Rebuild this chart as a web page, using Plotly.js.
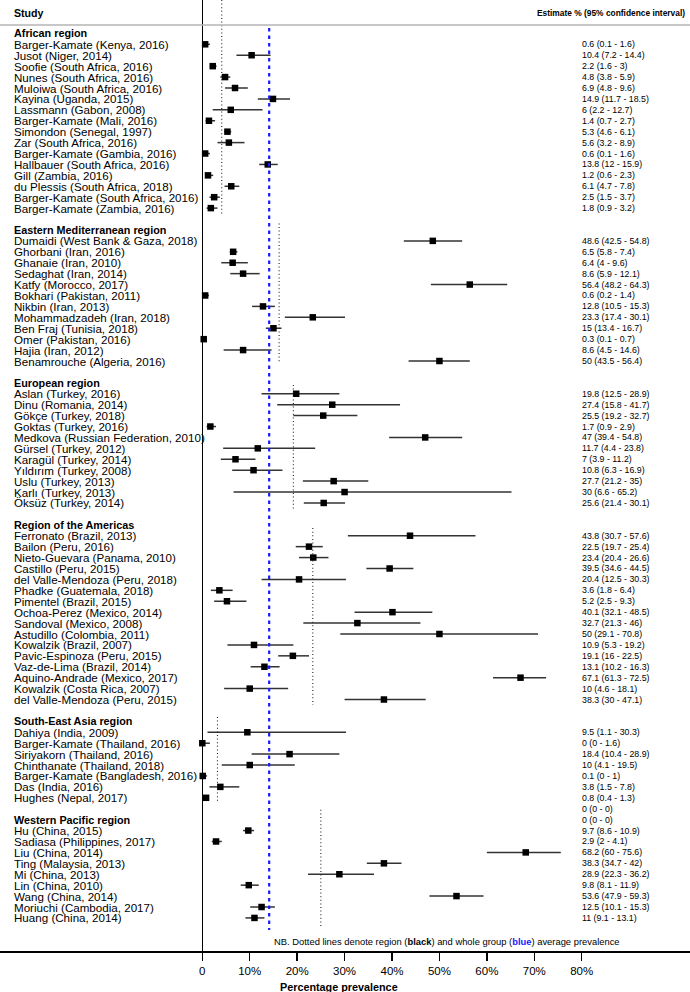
<!DOCTYPE html>
<html><head><meta charset="utf-8">
<script src="https://cdn.plot.ly/plotly-3.0.1.min.js"></script>
<style>html,body{margin:0;padding:0;background:#fff}</style>
</head><body><div id="chart" style="width:690px;height:992px"></div>
<script>
// ---------------- DATA ----------------
const regionNames = ["African region","Eastern Mediterranean region","European region","Region of the Americas","South-East Asia region","Western Pacific region"];
const regionAvg = [4.1, 16.2, 19.2, 23.3, 3.2, 25.0];
const overallAvg = 14.1;

const africanStudies = ["Barger-Kamate (Kenya, 2016)","Jusot (Niger, 2014)","Soofie (South Africa, 2016)","Nunes (South Africa, 2016)","Muloiwa (South Africa, 2016)","Kayina (Uganda, 2015)","Lassmann (Gabon, 2008)","Barger-Kamate (Mali, 2016)","Simondon (Senegal, 1997)","Zar (South Africa, 2016)","Barger-Kamate (Gambia, 2016)","Hallbauer (South Africa, 2016)","Gill (Zambia, 2016)","du Plessis (South Africa, 2018)","Barger-Kamate (South Africa, 2016)","Barger-Kamate (Zambia, 2016)"];
const africanEst = [0.6,10.4,2.2,4.8,6.9,14.9,6,1.4,5.3,5.6,0.6,13.8,1.2,6.1,2.5,1.8];
const africanLo  = [0.1,7.2,1.6,3.8,4.8,11.7,2.2,0.7,4.6,3.2,0.1,12,0.6,4.7,1.5,0.9];
const africanHi  = [1.6,14.4,3,5.9,9.6,18.5,12.7,2.7,6.1,8.9,1.6,15.9,2.3,7.8,3.7,3.2];

const emStudies = ["Dumaidi (West Bank & Gaza, 2018)","Ghorbani (Iran, 2016)","Ghanaie (Iran, 2010)","Sedaghat (Iran, 2014)","Katfy (Morocco, 2017)","Bokhari (Pakistan, 2011)","Nikbin (Iran, 2013)","Mohammadzadeh (Iran, 2018)","Ben Fraj (Tunisia, 2018)","Omer (Pakistan, 2016)","Hajia (Iran, 2012)","Benamrouche (Algeria, 2016)"];
const emEst = [48.6,6.5,6.4,8.6,56.4,0.6,12.8,23.3,15,0.3,8.6,50];
const emLo  = [42.5,5.8,4,5.9,48.2,0.2,10.5,17.4,13.4,0.1,4.5,43.5];
const emHi  = [54.8,7.4,9.6,12.1,64.3,1.4,15.3,30.1,16.7,0.7,14.6,56.4];

const euStudies = ["Aslan (Turkey, 2016)","Dinu (Romania, 2014)","Gökçe (Turkey, 2018)","Goktas (Turkey, 2016)","Medkova (Russian Federation, 2010)","Gürsel (Turkey, 2012)","Karagül (Turkey, 2014)","Yıldırım (Turkey, 2008)","Uslu (Turkey, 2013)","Karlı (Turkey, 2013)","Öksüz (Turkey, 2014)"];
const euEst = [19.8,27.4,25.5,1.7,47,11.7,7,10.8,27.7,30,25.6];
const euLo  = [12.5,15.8,19.2,0.9,39.4,4.4,3.9,6.3,21.2,6.6,21.4];
const euHi  = [28.9,41.7,32.7,2.9,54.8,23.8,11.2,16.9,35,65.2,30.1];

const amStudies = ["Ferronato (Brazil, 2013)","Bailon (Peru, 2016)","Nieto-Guevara (Panama, 2010)","Castillo (Peru, 2015)","del Valle-Mendoza (Peru, 2018)","Phadke (Guatemala, 2018)","Pimentel (Brazil, 2015)","Ochoa-Perez (Mexico, 2014)","Sandoval (Mexico, 2008)","Astudillo (Colombia, 2011)","Kowalzik (Brazil, 2007)","Pavic-Espinoza (Peru, 2015)","Vaz-de-Lima (Brazil, 2014)","Aquino-Andrade (Mexico, 2017)","Kowalzik (Costa Rica, 2007)","del Valle-Mendoza (Peru, 2015)"];
const amEst = [43.8,22.5,23.4,39.5,20.4,3.6,5.2,40.1,32.7,50,10.9,19.1,13.1,67.1,10,38.3];
const amLo  = [30.7,19.7,20.4,34.6,12.5,1.8,2.5,32.1,21.3,29.1,5.3,16,10.2,61.3,4.6,30];
const amHi  = [57.6,25.4,26.6,44.5,30.3,6.4,9.3,48.5,46,70.8,19.2,22.5,16.3,72.5,18.1,47.1];

const seaStudies = ["Dahiya (India, 2009)","Barger-Kamate (Thailand, 2016)","Siriyakorn (Thailand, 2016)","Chinthanate (Thailand, 2018)","Barger-Kamate (Bangladesh, 2016)","Das (India, 2016)","Hughes (Nepal, 2017)"];
const seaEst = [9.5,0,18.4,10,0.1,3.8,0.8];
const seaLo  = [1.1,0,10.4,4.1,0,1.5,0.4];
const seaHi  = [30.3,1.6,28.9,19.5,1,7.8,1.3];

const wpStudies = ["Hu (China, 2015)","Sadiasa (Philippines, 2017)","Liu (China, 2014)","Ting (Malaysia, 2013)","Mi (China, 2013)","Lin (China, 2010)","Wang (China, 2014)","Moriuchi (Cambodia, 2017)","Huang (China, 2014)"];
const wpEst = [9.7,2.9,68.2,38.3,28.9,9.8,53.6,12.5,11];
const wpLo  = [8.6,2,60,34.7,22.3,8.1,47.9,10.1,9.1];
const wpHi  = [10.9,4.1,75.6,42,36.2,11.9,59.3,15.3,13.1];
// two estimate lines printed above the Western Pacific studies, with no plotted study
const wpExtraEst = [0,0];
const wpExtraLo  = [0,0];
const wpExtraHi  = [0,0];

const tickValues = [0,10,20,30,40,50,60,70,80];
const tickLabels = ["0","10%","20%","30%","40%","50%","60%","70%","80%"];

// ---------------- BUILD ----------------
const groups = [
  [africanStudies, africanEst, africanLo, africanHi],
  [emStudies, emEst, emLo, emHi],
  [euStudies, euEst, euLo, euHi],
  [amStudies, amEst, amLo, amHi],
  [seaStudies, seaEst, seaLo, seaHi],
  [wpStudies, wpEst, wpLo, wpHi]
];
const FONT = "Liberation Sans, Arial, Helvetica, sans-serif";
const fmt = (e,l,h) => `${e} (${l} - ${h})`;
const EST_SIZE = 8.8;

const xs=[], ys=[], ePlus=[], eMinus=[];
const annotations=[], shapes=[];
const labelX = 12/690, estX = 580/690;
let row = 0;
const headerRows = [], lastRows = [];
groups.forEach((g, gi) => {
  if (gi > 0) row++;
  const hr = row; headerRows.push(hr);
  annotations.push({x: labelX, xref:'paper', y: hr, yref:'y', text: regionNames[gi], showarrow:false,
    xanchor:'left', yanchor:'middle', font:{family:FONT, size:10.8, color:'#000', weight:'bold'}});
  if (gi === 5) {
    wpExtraEst.forEach((v,k) => {
      annotations.push({x: estX, xref:'paper', y: hr-1+k, yref:'y', text: fmt(v, wpExtraLo[k], wpExtraHi[k]),
        showarrow:false, xanchor:'left', yanchor:'middle', font:{family:FONT, size:EST_SIZE, color:'#000'}});
    });
  }
  row++;
  const [names, est, lo, hi] = g;
  names.forEach((n, k) => {
    xs.push(est[k]); ys.push(row);
    ePlus.push(+(hi[k]-est[k]).toFixed(3)); eMinus.push(+(est[k]-lo[k]).toFixed(3));
    annotations.push({x: labelX, xref:'paper', y: row, yref:'y', text: n, showarrow:false,
      xanchor:'left', yanchor:'middle', font:{family:FONT, size:11.6, color:'#000'}});
    annotations.push({x: estX, xref:'paper', y: row, yref:'y', text: fmt(est[k], lo[k], hi[k]), showarrow:false,
      xanchor:'left', yanchor:'middle', font:{family:FONT, size:EST_SIZE, color:'#000'}});
    row++;
  });
  lastRows.push(row-1);
});

// pixel geometry helpers (rows)
const ROW0 = 33.4, ROWH = 10.92, PLOTH = 951;
const yTop = -ROW0/ROWH, yBot = (PLOTH-ROW0)/ROWH;
const pxRow = p => (p-ROW0)/ROWH;

// region dotted lines
const lineStarts = [yTop, headerRows[1]-0.6, headerRows[2]+0.2, headerRows[3]+0.3, headerRows[4]-0.4, headerRows[5]-0.9];
const lineEnds = lastRows.map((r,i) => r + [0.5,0.2,0.5,0.5,0.5,0.8][i]);
regionAvg.forEach((v,i) => {
  shapes.push({type:'line', xref:'x', yref:'y', x0:v, x1:v, y0:lineStarts[i], y1:lineEnds[i],
    line:{color:'#222', width:1.1, dash:'1px,2.6px'}});
});
// overall blue line
shapes.push({type:'line', xref:'x', yref:'y', x0:overallAvg, x1:overallAvg, y0:pxRow(28), y1:pxRow(930),
  line:{color:'#1a1aff', width:2.2, dash:'3.5px,4px'}});
// header separator
shapes.push({type:'line', xref:'paper', yref:'y', x0:0, x1:1, y0:pxRow(25), y1:pxRow(25),
  line:{color:'#b5b5b5', width:1.5}});

// headers
annotations.push({x: labelX, xref:'paper', y: pxRow(13), yref:'y', text:'Study', showarrow:false,
  xanchor:'left', yanchor:'middle', font:{family:FONT, size:10.6, color:'#000', weight:'bold'}});
annotations.push({x: 687/690, xref:'paper', y: pxRow(13), yref:'y', text:'Estimate % (95% confidence interval)', showarrow:false,
  xanchor:'right', yanchor:'middle', font:{family:FONT, size:8.4, color:'#000', weight:'bold'}});
// note
annotations.push({x: 447/690, xref:'paper', y: pxRow(941), yref:'y',
  text:'NB. Dotted lines denote region (<b>black</b>) and whole group (<b><span style="color:#1a1aff">blue</span></b>) average prevalence',
  showarrow:false, xanchor:'center', yanchor:'middle', font:{family:FONT, size:9.4, color:'#000'}});
// x title
annotations.push({x: 338.8/690, xref:'paper', y: -(986.5-951)/951, yref:'paper', text:'Percentage prevalence', showarrow:false,
  xanchor:'center', yanchor:'middle', font:{family:FONT, size:10.8, color:'#000', weight:'bold'}});

const PX = 4.7425, X0 = 202.3;
const trace = {
  type:'scatter', mode:'markers', x: xs, y: ys, hoverinfo:'skip',
  marker:{symbol:'square', size:6.5, color:'#000'},
  error_x:{type:'data', symmetric:false, array:ePlus, arrayminus:eMinus, width:0, thickness:1.5, color:'#333'}
};
const layout = {
  width:690, height:992, margin:{l:0, r:0, t:0, b:41, pad:0},
  paper_bgcolor:'#fff', plot_bgcolor:'#fff', showlegend:false,
  xaxis:{range:[-X0/PX, (690-X0)/PX], tickvals:tickValues, ticktext:tickLabels, showgrid:false,
    zeroline:true, zerolinecolor:'#000', zerolinewidth:1.6, showline:true, linecolor:'#000', linewidth:2,
    ticks:'outside', ticklen:8, tickwidth:1.5, tickcolor:'#000', fixedrange:true,
    tickfont:{family:FONT, size:11.5, color:'#000'}},
  yaxis:{range:[yBot, yTop], showgrid:false, zeroline:false, showticklabels:false, showline:false, ticks:'', fixedrange:true},
  shapes, annotations
};
Plotly.newPlot('chart', [trace], layout, {staticPlot:true, displayModeBar:false});
</script></body></html>
